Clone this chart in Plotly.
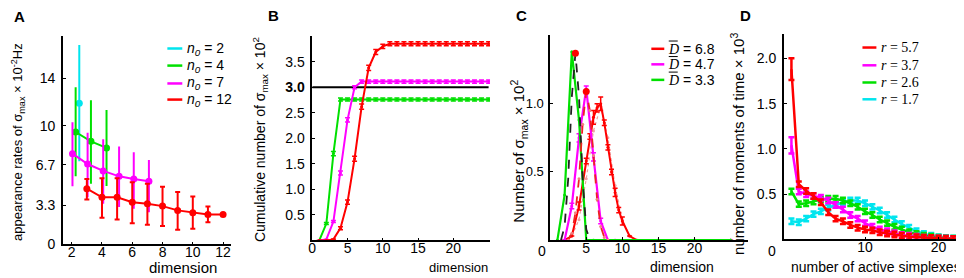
import plotly.graph_objects as go

W, H = 964, 278
RED, MAG, GRN, CYN = "#ff0000", "#ff00ff", "#00e000", "#00e5ee"
FONT = "Liberation Sans, Arial, sans-serif"
SERIF = "Liberation Serif, Times New Roman, serif"

# ---------------- Panel A data ----------------
a_cyan_x = [2.5]
a_cyan_y = [11.9]
a_cyan_hi = [16.8]
a_cyan_lo = [7.0]
a_green_x = [2.26, 3.27, 4.3]
a_green_y = [9.47, 8.68, 8.13]
a_green_hi = [13.24, 12.14, 11.33]
a_green_lo = [5.73, 5.1, 4.91]
a_mag_x = [2.05, 3.05, 4.08, 5.13, 6.1, 7.1]
a_mag_y = [7.64, 6.77, 6.19, 5.73, 5.5, 5.31]
a_mag_hi = [10.3, 9.41, 8.86, 8.24, 7.77, 7.1]
a_mag_lo = [4.9, 3.96, 3.41, 3.14, 3.0, 2.7]
a_red_x = [3, 4, 5, 6, 7, 8, 9, 10, 11, 12]
a_red_y = [4.69, 3.96, 3.96, 3.55, 3.41, 3.22, 2.86, 2.67, 2.51, 2.51]
a_red_hi = [5.5, 5.58, 5.58, 5.24, 5.1, 4.86, 4.42, 4.04, 3.19, 2.51]
a_red_lo = [3.77, 2.24, 2.1, 1.77, 1.64, 1.55, 1.22, 1.31, 1.85, 2.51]
a_yticks = [0, 3.3, 6.7, 10, 14]
a_xticks = [2, 4, 6, 8, 10, 12]
a_legend = ["2", "4", "7", "12"]

# ---------------- Panel B data ----------------
b_x = list(range(1, 26))
b_green = [0, 0.33, 1.70] + [2.76] * 22
b_mag = [0, 0.02, 0.37, 1.32, 2.36, 3.0] + [3.11] * 19
b_red = [0, 0, 0.02, 0.24, 0.75, 1.6, 2.62, 3.38, 3.69, 3.80] + [3.85] * 15
b_red_err = [0, 0, 0.01, 0.03, 0.04, 0.05, 0.05, 0.05, 0.05, 0.04] + [0.04] * 15
b_mag_err = [0, 0, 0.02, 0.04, 0.04, 0.03] + [0.03] * 19
b_green_err = [0, 0.02, 0.04] + [0.03] * 22
b_ref_x = [0, 25]
b_ref_y = [3.0, 3.0]
b_xticks = [0, 5, 10, 15, 20]
b_yticks = [0.5, 1.0, 1.5, 2.0, 2.5, 3.0, 3.5]

# ---------------- Panel C data ----------------
c_green_x = [1, 2, 3, 4, 5, 6, 10, 15, 20, 25]
c_green_y = [0, 0.33, 1.38, 0.88, 0, 0, 0, 0, 0, 0]
c_mag_x = [2, 3, 4, 5, 6, 7, 8, 9, 15, 20, 25]
c_mag_y = [0, 0.25, 0.75, 1.11, 0.61, 0.14, 0, 0, 0, 0, 0]
c_mag_err = [0, 0.02, 0.03, 0.02, 0.03, 0.02, 0, 0, 0, 0, 0]
c_red_x = [2, 3, 4, 5, 5.5, 6, 6.5, 7, 7.5, 8, 8.5, 9, 9.5, 10, 11, 12, 15, 20, 25]
c_red_y = [0, 0.03, 0.25, 0.58, 0.76, 0.9, 0.97, 1.0, 0.86, 0.68, 0.5, 0.35, 0.22, 0.14, 0.03, 0, 0, 0, 0]
c_red_err = [0, 0, 0.03, 0.02, 0.02, 0.05, 0.03, 0.05, 0.02, 0.02, 0.02, 0.03, 0.02, 0.03, 0, 0, 0, 0, 0]
c_fitg_x = [1.5, 2, 2.5, 3, 3.5, 4, 4.5, 5, 5.5]
c_fitg_y = [0, 0.1, 0.45, 1.05, 1.37, 1.05, 0.45, 0.08, 0]
c_fitm_x = [2.5, 3, 3.5, 4, 4.5, 5, 5.5, 6, 6.5, 7, 7.5, 8]
c_fitm_y = [0, 0.05, 0.2, 0.45, 0.85, 1.09, 0.95, 0.62, 0.3, 0.1, 0.02, 0]
c_fitr_x = [3, 4, 5, 6, 7, 8, 9, 10, 11]
c_fitr_y = [0.03, 0.15, 0.45, 0.8, 0.98, 0.75, 0.4, 0.15, 0.03]
c_peak_x = [3.5, 5.0]
c_peak_y = [1.37, 1.09]
c_xticks = [5, 10, 15, 20]
c_yticks = [0.5, 1.0]
c_legend = ["6.8", "4.7", "3.3"]

# ---------------- Panel D data ----------------
d_x = list(range(0, 24))
d_red = [1.88, 0.61, 0.535, 0.48, 0.41, 0.30, 0.23, 0.20, 0.16, 0.13, 0.11, 0.10,
         0.08, 0.065, 0.055, 0.04, 0.03, 0.025, 0.02, 0.015, 0.01, 0.008, 0.005, 0.005]
d_mag = [1.04, 0.53, 0.50, 0.48, 0.46, 0.43, 0.38, 0.33, 0.27, 0.23, 0.18, 0.14,
         0.11, 0.09, 0.07, 0.05, 0.04, 0.03, 0.02, 0.015, 0.01, 0.008, 0.005, 0.004]
d_green = [0.53, 0.39, 0.40, 0.42, 0.44, 0.45, 0.45, 0.43, 0.40, 0.36, 0.31, 0.27,
           0.22, 0.18, 0.14, 0.11, 0.08, 0.06, 0.04, 0.03, 0.02, 0.012, 0.008, 0.005]
d_cyan = [0.20, 0.19, 0.23, 0.28, 0.31, 0.35, 0.38, 0.41, 0.43, 0.43, 0.40, 0.36,
          0.32, 0.27, 0.22, 0.17, 0.13, 0.09, 0.06, 0.04, 0.025, 0.015, 0.01, 0.005]
d_red_err = [0.12] + [0.03] * 23
d_mag_err = [0.09] + [0.03] * 23
d_err = [0.03] * 24
d_xticks = [10, 20]
d_yticks = [0.5, 1.0, 1.5, 2.0]
d_legend = ["5.7", "3.7", "2.6", "1.7"]


def xd(a, b):
    return [a / W, b / W]


def yd(top, bottom):
    return [1 - bottom / H, 1 - top / H]


def px(x):
    return x / W


def py(y):
    return 1 - y / H


fig = go.Figure()


def eb(plus, minus=None, color=None, width=0, thick=2):
    d = dict(type="data", array=plus, color=color, width=width, thickness=thick, visible=True)
    if minus is not None:
        d["symmetric"] = False
        d["arrayminus"] = minus
    return d


# ---- A traces ----
def a_trace(xs, ys, hi, lo, col, cap):
    fig.add_trace(go.Scatter(
        x=xs, y=ys, mode="lines+markers", xaxis="x", yaxis="y",
        line=dict(color=col, width=2), marker=dict(color=col, size=7),
        error_y=eb([h - y for h, y in zip(hi, ys)], [y - l for y, l in zip(ys, lo)],
                   color=col, width=cap, thick=2),
        showlegend=False))


a_trace(a_cyan_x, a_cyan_y, a_cyan_hi, a_cyan_lo, CYN, 0)
a_trace(a_green_x, a_green_y, a_green_hi, a_green_lo, GRN, 0)
a_trace(a_mag_x, a_mag_y, a_mag_hi, a_mag_lo, MAG, 0)
a_trace(a_red_x, a_red_y, a_red_hi, a_red_lo, RED, 2.5)

# ---- B traces ----
fig.add_trace(go.Scatter(x=b_ref_x, y=b_ref_y, mode="lines", xaxis="x2", yaxis="y2",
                         line=dict(color="black", width=2), showlegend=False))
for ys, err, col in [(b_green, b_green_err, GRN), (b_mag, b_mag_err, MAG), (b_red, b_red_err, RED)]:
    fig.add_trace(go.Scatter(
        x=b_x, y=ys, mode="lines+markers", xaxis="x2", yaxis="y2",
        line=dict(color=col, width=2), marker=dict(color=col, size=3),
        error_y=eb(err, color=col, width=2.5, thick=1.5), showlegend=False))

# ---- C traces ----
fig.add_trace(go.Scatter(x=c_fitr_x, y=c_fitr_y, mode="lines+markers", xaxis="x3", yaxis="y3",
                         line=dict(color="#f2a0a0", width=1.2, dash="dot"),
                         marker=dict(color="#f2a0a0", size=3), showlegend=False))
fig.add_trace(go.Scatter(x=c_red_x, y=c_red_y, mode="lines+markers", xaxis="x3", yaxis="y3",
                         line=dict(color=RED, width=2), marker=dict(color=RED, size=3),
                         error_y=eb(c_red_err, color=RED, width=2.5, thick=1.5), showlegend=False))
fig.add_trace(go.Scatter(x=c_mag_x, y=c_mag_y, mode="lines+markers", xaxis="x3", yaxis="y3",
                         line=dict(color=MAG, width=2.2), marker=dict(color=MAG, size=3),
                         error_y=eb(c_mag_err, color=MAG, width=2.5, thick=1.5), showlegend=False))
fig.add_trace(go.Scatter(x=c_green_x, y=c_green_y, mode="lines+markers", xaxis="x3", yaxis="y3",
                         line=dict(color=GRN, width=2.2), marker=dict(color=GRN, size=3),
                         showlegend=False))
fig.add_trace(go.Scatter(x=c_fitg_x, y=c_fitg_y, mode="lines", xaxis="x3", yaxis="y3",
                         line=dict(color="#222222", width=1.8, dash="dash"), showlegend=False))
fig.add_trace(go.Scatter(x=c_fitm_x, y=c_fitm_y, mode="lines+markers", xaxis="x3", yaxis="y3",
                         line=dict(color="#ee2222", width=1.8, dash="dash"),
                         marker=dict(color="#f08080", size=3), showlegend=False))
fig.add_trace(go.Scatter(x=c_peak_x, y=c_peak_y, mode="markers", xaxis="x3", yaxis="y3",
                         marker=dict(color=RED, size=7), showlegend=False))

# ---- D traces ----
for ys, err, col in [(d_cyan, d_err, CYN), (d_green, d_err, GRN), (d_mag, d_mag_err, MAG), (d_red, d_red_err, RED)]:
    fig.add_trace(go.Scatter(
        x=d_x, y=ys, mode="lines", xaxis="x4", yaxis="y4",
        line=dict(color=col, width=2.5),
        error_y=eb(err, color=col, width=3, thick=2.5), showlegend=False))

# ---------------- Axes ----------------
def axis_common(size=14, **kw):
    d = dict(showline=True, linecolor="black", linewidth=1.5, ticks="inside", ticklen=3,
             tickcolor="black", showgrid=False, zeroline=False, mirror=False,
             tickfont=dict(family=FONT, size=size, color="black"))
    d.update(kw)
    return d


XS = -6   # x tick label standoff
YS = 3    # y tick label standoff

layout = dict(
    width=W, height=H, margin=dict(l=0, r=0, t=0, b=0), autosize=False,
    paper_bgcolor="white", plot_bgcolor="white",
    font=dict(family=FONT, size=13, color="black"),
    xaxis=axis_common(domain=xd(51, 220), range=[1.41, 12.53], anchor="y",
                      tickvals=a_xticks, ticklabelstandoff=XS),
    yaxis=axis_common(domain=yd(29, 243.3), range=[0, 17.55], anchor="x",
                      tickvals=a_yticks, ticktext=[str(v) for v in a_yticks],
                      ticklabelstandoff=YS),
    xaxis2=axis_common(domain=xd(301.5, 480), range=[0, 25.2], anchor="y2",
                       tickvals=b_xticks, ticklabelstandoff=XS),
    yaxis2=axis_common(domain=yd(29, 239.3), range=[0, 4.0], anchor="x2",
                       tickvals=b_yticks, ticklabelstandoff=YS,
                       ticktext=["%.1f" % v if v != 3.0 else "<b>3.0</b>" for v in b_yticks]),
    xaxis3=axis_common(domain=xd(540.4, 739), range=[0, 27.4], anchor="y3",
                       tickvals=c_xticks, ticklabelstandoff=XS),
    yaxis3=axis_common(size=13, domain=yd(28.3, 239), range=[0, 1.5], anchor="x3",
                       tickvals=c_yticks, ticktext=["0.5", "1.0"], ticklabelstandoff=2),
    xaxis4=axis_common(domain=xd(775, 960), range=[-1.04, 24.0], anchor="y4",
                       tickvals=d_xticks, ticklabelstandoff=XS),
    yaxis4=axis_common(domain=yd(26.7, 238.3), range=[0, 2.27], anchor="x4",
                       tickvals=d_yticks, ticktext=["0.5", "1.0", "1.5", "2.0"],
                       ticklabelstandoff=YS),
)
fig.update_layout(**layout)

ann = []
shapes = []


def text(x, y, s, size=13, angle=0, xanchor="center", family=FONT):
    ann.append(dict(x=px(x), y=py(y), xref="paper", yref="paper", text=s, showarrow=False,
                    textangle=angle, xanchor=xanchor, yanchor="middle",
                    font=dict(family=family, size=size, color="black")))


# panel letters
for lx, ly, lt in [(8, 9, "A"), (262.5, 8, "B"), (511.7, 8, "C"), (736.7, 8, "D")]:
    text(lx, ly, "<b>%s</b>" % lt, size=15)

# axis titles (rotated; x shifted to compensate for the rotated box offset)
sig = "σ<sub>max</sub>"
text(6, 138, "appearance rates of %s × 10<sup>-2</sup>Hz" % sig, size=13, angle=-90)
text(249, 135, "Cumulative number of %s × 10<sup>2</sup>" % sig, size=14, angle=-90)
text(509, 147, "Number of %s × 10<sup>2</sup>" % sig, size=15, angle=-90)
text(729, 140, "number of moments of time × 10<sup>3</sup>", size=15, angle=-90)
text(172, 267, "dimension", size=15)
text(448, 267, "dimension", size=13)
text(673, 267, "dimension", size=14)
text(868, 267, "number of active simplexes", size=14)
text(532.7, 250, "0", size=14)
text(763.3, 250, "0", size=14)


# legends
def legend_row(x0, x1, y, col, label, tx, family=FONT):
    shapes.append(dict(type="line", xref="paper", yref="paper", x0=px(x0), x1=px(x1),
                       y0=py(y), y1=py(y), line=dict(color=col, width=2.5)))
    text(tx, y, label, size=14, xanchor="left", family=family)


for (yy, col, lab) in zip([41.7, 59.3, 77.7, 94.3], [CYN, GRN, MAG, RED], a_legend):
    legend_row(156, 171, yy, col, "<i>n</i><sub><i>0</i></sub> = %s" % lab, 174)

for (yy, col, lab) in zip([42, 58, 74], [RED, MAG, GRN], c_legend):
    legend_row(642, 655, yy, col,
               "<span style='font-family:Liberation Serif'><i>D</i></span> = %s" % lab, 657)
    shapes.append(dict(type="line", xref="paper", yref="paper", x0=px(659.5), x1=px(668.5),
                       y0=py(yy - 8), y1=py(yy - 8), line=dict(color="black", width=1)))

for (yy, col, lab) in zip([40.7, 59, 76.7, 94], [RED, MAG, GRN, CYN], d_legend):
    legend_row(854, 868, yy, col, "<i>r</i> = %s" % lab, 871, family=SERIF)

fig.update_layout(annotations=ann, shapes=shapes)
fig.write_html("out.html")
